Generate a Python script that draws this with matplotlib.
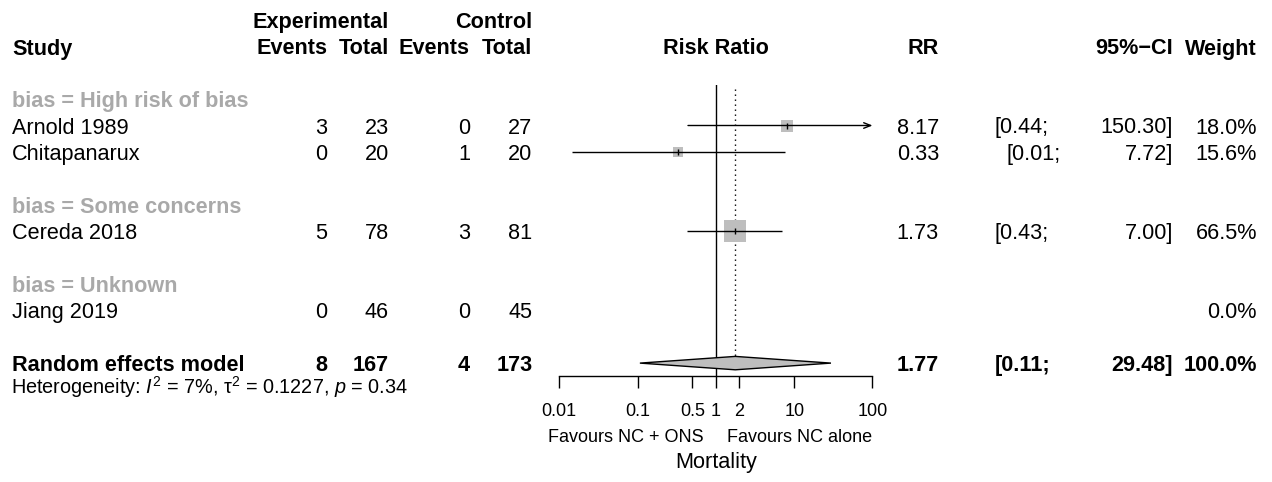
import numpy as np
import matplotlib
matplotlib.use("Agg")
import matplotlib.pyplot as plt
from matplotlib.ticker import NullLocator, FixedLocator, FixedFormatter

# ---------------- data ----------------
studies = ["Arnold 1989", "Chitapanarux", "Cereda 2018", "Jiang 2019"]
groups = ["High risk of bias", "High risk of bias", "Some concerns", "Unknown"]
exp_events = [3, 0, 5, 0]
exp_total = [23, 20, 78, 46]
ctrl_events = [0, 1, 3, 0]
ctrl_total = [27, 20, 81, 45]
rr = [8.17, 0.33, 1.73, np.nan]
ci_lower = [0.44, 0.0144, 0.43, np.nan]
ci_upper = [150.30, 7.72, 7.00, np.nan]
weights = [18.0, 15.6, 66.5, 0.0]

pooled_label = "Random effects model"
pooled_exp_events = 8
pooled_exp_total = 167
pooled_ctrl_events = 4
pooled_ctrl_total = 173
pooled_rr = 1.77
pooled_lower = 0.107
pooled_upper = 29.48
pooled_weight = 100.0
het_text = r"Heterogeneity: $I^2$ = 7%, $\mathrm{\tau}^2$ = 0.1227, $p$ = 0.34"

xticks = [0.01, 0.1, 0.5, 1, 2, 10, 100]
xtick_labels = ["0.01", "0.1", "0.5", "1", "2", "10", "100"]
label_left = "Favours NC + ONS"
label_right = "Favours NC alone"
xlab = "Mortality"

# ---------------- style ----------------
plt.rcParams["font.family"] = ["Liberation Sans", "DejaVu Sans"]
plt.rcParams["mathtext.fontset"] = "custom"
plt.rcParams["mathtext.rm"] = "Liberation Sans"
plt.rcParams["mathtext.it"] = "Liberation Sans:italic"
plt.rcParams["mathtext.bf"] = "Liberation Sans:bold"

FS = 15.6
FS_SMALL = 13
FS_HET = 14.3
GREY_BY = "#A9A9A9"
GREY_SQ = "#BEBEBE"

W, H = 1272, 482
fig = plt.figure(figsize=(W / 100, H / 100), dpi=100)
ax0 = fig.add_axes([0, 0, 1, 1])
ax0.set_xlim(0, W)
ax0.set_ylim(H, 0)
ax0.axis("off")

# forest axes (pixel-aligned, y in pixel units)
fx0, fx1 = 559.3, 872.5
fy_top, fy_bot = 85, 375.5
fax = fig.add_axes([fx0 / W, (H - fy_bot) / H, (fx1 - fx0) / W, (fy_bot - fy_top) / H])
fax.set_xscale("log")
fax.set_xlim(0.01, 100)
fax.set_ylim(fy_bot, fy_top)
fax.patch.set_alpha(0)
for s in ["top", "left", "right"]:
    fax.spines[s].set_visible(False)
fax.spines["bottom"].set_linewidth(1)
fax.set_yticks([])
fax.xaxis.set_major_locator(FixedLocator(xticks))
fax.xaxis.set_major_formatter(FixedFormatter(xtick_labels))
fax.xaxis.set_minor_locator(NullLocator())
fax.tick_params(axis="x", direction="out", length=8.6, width=1,
                labelsize=FS_SMALL, pad=11.3)

# column positions (pixels)
X_STUDY = 12
X_EE, X_ET, X_CE, X_CT = 327, 389, 470, 532.5
X_RR = 939
X_LO = 995
X_LO_SHIFT = {1: 1007}
X_UP = 1173
X_W = 1257
BASE = 8.0


def T(x, y, s, ha="right", bold=False, color="black", size=FS):
    ax0.text(x, y + BASE, s, ha=ha, va="baseline", fontsize=size,
             fontweight="bold" if bold else "normal", color=color)


# header
y_h1, y_h2 = 20.0, 46.5
T(X_ET, y_h1, "Experimental", bold=True)
T(X_CT, y_h1, "Control", bold=True)
T(X_STUDY, y_h2, "Study", ha="left", bold=True)
T(X_EE, y_h2, "Events", bold=True)
T(X_ET, y_h2, "Total", bold=True)
T(X_CE, y_h2, "Events", bold=True)
T(X_CT, y_h2, "Total", bold=True)
fax.text(1, y_h2 + BASE, "Risk Ratio", ha="center", va="baseline",
         fontsize=FS, fontweight="bold")
T(X_RR, y_h2, "RR", bold=True)
T(X_UP, y_h2, "95%\u2212CI", bold=True)
T(X_W, y_h2, "Weight", bold=True)

# rows
y0, dy = 99.1, 26.4
y = y0
max_w = max(weights)
seen = []
for g in groups:
    if g in seen:
        continue
    seen.append(g)
    T(X_STUDY, y, "bias = " + g, ha="left", bold=True, color=GREY_BY)
    y += dy
    for i, gi in enumerate(groups):
        if gi != g:
            continue
        T(X_STUDY, y, studies[i], ha="left")
        T(X_EE, y, str(exp_events[i]))
        T(X_ET, y, str(exp_total[i]))
        T(X_CE, y, str(ctrl_events[i]))
        T(X_CT, y, str(ctrl_total[i]))
        if not np.isnan(rr[i]):
            T(X_RR, y, f"{rr[i]:.2f}")
            T(X_LO_SHIFT.get(i, X_LO), y, f"[{ci_lower[i]:.2f};", ha="left")
            T(X_UP, y, f"{ci_upper[i]:.2f}]")
            side_px = 22.3 * np.sqrt(weights[i] / max_w)
            side_pt = side_px * 0.72
            fax.scatter([rr[i]], [y], marker="s", s=side_pt ** 2, color=GREY_SQ,
                        linewidths=0, zorder=2, clip_on=False)
            if ci_upper[i] > 100:
                fax.annotate("", xy=(100, y), xytext=(ci_lower[i], y),
                             xycoords="data", textcoords="data",
                             annotation_clip=False,
                             arrowprops=dict(arrowstyle="->,head_length=0.5,head_width=0.2",
                                             lw=1, color="black", shrinkA=0, shrinkB=0,
                                             mutation_scale=10),
                             zorder=3)
            else:
                fax.plot([ci_lower[i], ci_upper[i]], [y, y], color="black", lw=1,
                         zorder=3, clip_on=False, solid_capstyle="butt")
            fax.plot([rr[i]], [y], marker="|", ms=4.5, mew=1, color="black",
                     zorder=4, clip_on=False)
        T(X_W, y, f"{weights[i]:.1f}%")
        y += dy
    y += dy

# pooled
yp = y
T(X_STUDY, yp, pooled_label, ha="left", bold=True)
T(X_EE, yp, str(pooled_exp_events), bold=True)
T(X_ET, yp, str(pooled_exp_total), bold=True)
T(X_CE, yp, str(pooled_ctrl_events), bold=True)
T(X_CT, yp, str(pooled_ctrl_total), bold=True)
T(X_RR, yp, f"{pooled_rr:.2f}", bold=True)
T(X_LO, yp, f"[{pooled_lower:.2f};", ha="left", bold=True)
T(X_UP, yp, f"{pooled_upper:.2f}]", bold=True)
T(X_W, yp, f"{pooled_weight:.1f}%", bold=True)
dh = 6.7
fax.fill([pooled_lower, pooled_rr, pooled_upper, pooled_rr],
         [yp, yp - dh, yp, yp + dh], facecolor=GREY_SQ, edgecolor="black",
         lw=1, zorder=3, clip_on=False)
ax0.text(X_STUDY - 1, 394, het_text, ha="left", va="baseline", fontsize=FS_HET)

# reference lines
fax.axvline(1, color="black", lw=1, zorder=1)
fax.plot([pooled_rr, pooled_rr], [89, yp - dh], color="black", lw=1,
         ls=(0, (1, 2.6)), zorder=1)

# bottom labels
fax.annotate(label_left, xy=(1, 441.7), xycoords="data", xytext=(-9, 0),
             textcoords="offset points", ha="right", va="baseline",
             fontsize=FS_SMALL, annotation_clip=False)
fax.annotate(label_right, xy=(1, 441.7), xycoords="data", xytext=(8, 0),
             textcoords="offset points", ha="left", va="baseline",
             fontsize=FS_SMALL, annotation_clip=False)
fax.text(1, 468, xlab, ha="center", va="baseline", fontsize=FS, clip_on=False)

fig.savefig("out.png", dpi=100)
